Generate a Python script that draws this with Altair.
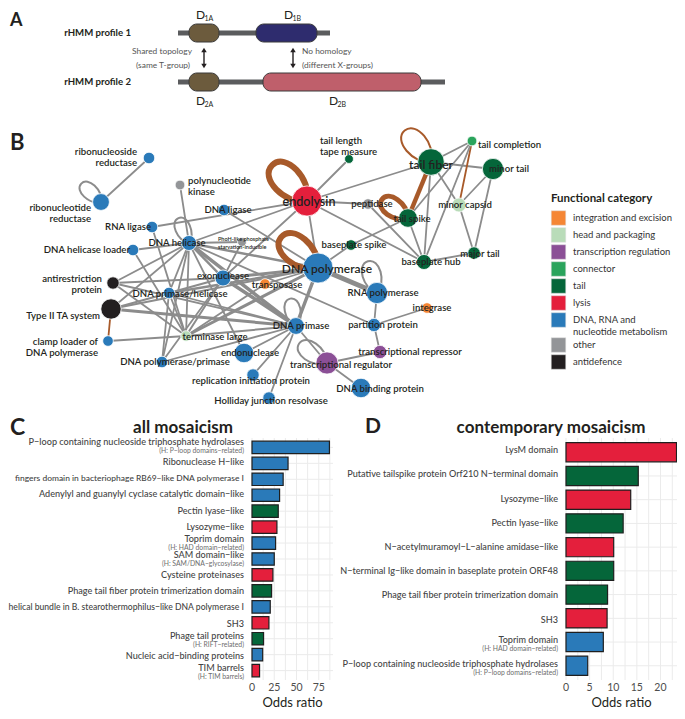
import altair as alt
import pandas as pd
import math

FONT = "Lato"
INK = "#231f20"

# ---------------- categories ----------------
CATEGORIES = ["integration and excision", "head and packaging", "transcription regulation",
              "connector", "tail", "lysis", "DNA, RNA and nucleotide metabolism", "other", "antidefence"]
CAT_COLORS = ["#f58634", "#b9dcb9", "#8b4f96", "#2aa45c", "#05663a", "#e41f3c", "#2a7ab9", "#939598", "#231f20"]
CAT_CODE = {"I": CATEGORIES[0], "H": CATEGORIES[1], "R": CATEGORIES[2], "C": CATEGORIES[3], "T": CATEGORIES[4],
            "L": CATEGORIES[5], "D": CATEGORIES[6], "O": CATEGORIES[7], "A": CATEGORIES[8]}

# ---------------- panel A (schematic) ----------------
PROFILE_NAMES = ["rHMM profile 1", "rHMM profile 2"]
PROFILE_Y = [33, 82]
BACKBONE_X1 = [178, 178]
BACKBONE_X2 = [330, 445]
DOMAIN_NAMES = ["1A", "1B", "2A", "2B"]
DOMAIN_X1 = [189, 256, 189, 263]
DOMAIN_X2 = [219, 317, 219, 421]
DOMAIN_Y1 = [24, 24, 73, 73]
DOMAIN_Y2 = [42, 42, 91, 91]
DOMAIN_FILL = ["#6c5b3d", "#2e2c6e", "#6c5b3d", "#bf5f6b"]
DOMAIN_LABEL_X = [196, 284, 196, 329]
DOMAIN_LABEL_Y = [15, 15, 101, 101]
ARROW_X = [204, 293]
ANNOT_TEXT = ["Shared topology", "(same T-group)", "No homology", "(different X-groups)"]
ANNOT_X = [192, 190, 302, 302]
ANNOT_Y = [51, 65, 51, 65]
ANNOT_ALIGN = ["right", "right", "left", "left"]

# ---------------- panel B (network) ----------------
NODES = ["ribonucleoside reductase", "ribonucleotide reductase", "polynucleotide kinase", "DNA ligase",
         "RNA ligase", "DNA helicase", "PhoH-like", "DNA helicase loader", "endolysin",
         "tail length tape measure", "peptidase", "tail fiber", "tail completion", "minor tail",
         "minor capsid", "tail spike", "baseplate spike", "baseplate hub", "major tail", "DNA polymerase",
         "exonuclease", "transposase", "DNA primase/helicase", "antirestriction protein", "Type II TA system",
         "clamp loader", "terminase large", "DNA primase", "endonuclease", "DNA polymerase/primase",
         "replication initiation protein", "Holliday junction resolvase", "transcriptional regulator",
         "transcriptional repressor", "DNA binding protein", "partition protein", "integrase", "RNA polymerase"]
NODE_X = [149, 101, 180, 224, 152, 189, 242, 133, 307, 349, 368, 431, 472, 493, 459, 408, 351, 424, 474, 318,
          223, 265, 169, 113, 111, 108, 186, 296, 244, 162, 253, 269, 327, 380, 361, 374, 427, 377]
NODE_Y = [158, 202, 185, 210, 227, 243, 242, 250, 201, 159, 204, 162, 141, 169, 205, 218, 245, 262, 253, 268,
          278, 284, 293, 283, 309, 341, 336, 326, 353, 362, 375, 398, 363, 352, 388, 325, 308, 293]
NODE_R = [6.5, 9.5, 5.5, 6.5, 6.5, 8.5, 5, 6.5, 17, 5, 6, 15, 5.5, 12, 8, 10.5, 6, 8.5, 7, 17,
          9, 6, 6.5, 7, 11.5, 6, 6, 9.5, 11, 6.5, 7, 7, 12.5, 7.5, 11, 7.5, 6, 12]
NODE_CAT = ["D", "D", "O", "D", "D", "D", "O", "D", "L", "T", "O", "T", "C", "T", "H", "T", "T", "T", "T", "D",
            "D", "I", "D", "A", "A", "D", "H", "D", "D", "D", "D", "D", "R", "R", "D", "D", "I", "D"]

EDGE_FROM = ["ribonucleoside reductase", "polynucleotide kinase", "RNA ligase", "RNA ligase", "DNA helicase",
             "DNA ligase", "DNA helicase loader", "DNA helicase loader", "DNA helicase", "DNA helicase",
             "DNA helicase", "DNA helicase", "DNA helicase", "DNA helicase", "DNA helicase", "DNA helicase",
             "DNA helicase", "DNA helicase", "DNA helicase", "PhoH-like", "endolysin", "endolysin", "endolysin",
             "endolysin", "endolysin", "endolysin", "peptidase", "tail fiber", "tail fiber", "tail fiber",
             "tail fiber", "tail fiber", "tail completion", "tail completion", "tail completion", "minor tail",
             "minor tail", "minor capsid", "tail spike", "baseplate hub", "baseplate spike", "baseplate spike",
             "DNA polymerase", "DNA polymerase", "DNA polymerase", "DNA polymerase", "DNA polymerase",
             "DNA polymerase", "DNA polymerase", "antirestriction protein", "antirestriction protein",
             "antirestriction protein", "Type II TA system", "Type II TA system", "Type II TA system",
             "clamp loader", "DNA primase/helicase", "DNA primase/helicase", "DNA primase/helicase",
             "exonuclease", "exonuclease", "exonuclease", "transposase", "terminase large", "DNA primase",
             "DNA primase", "DNA primase", "DNA primase", "DNA primase", "transcriptional regulator",
             "transcriptional regulator", "transcriptional repressor", "partition protein", "partition protein"]
EDGE_TO = ["ribonucleotide reductase", "DNA helicase", "endolysin", "terminase large", "endolysin",
           "DNA polymerase", "DNA helicase", "terminase large", "antirestriction protein", "Type II TA system",
           "DNA primase/helicase", "exonuclease", "DNA primase", "terminase large", "DNA polymerase/primase",
           "PhoH-like", "DNA polymerase", "endonuclease", "partition protein", "exonuclease",
           "tail length tape measure", "tail fiber", "peptidase", "DNA polymerase", "exonuclease",
           "baseplate hub", "baseplate hub", "tail completion", "minor tail", "minor capsid", "baseplate hub",
           "tail spike", "minor capsid", "tail spike", "baseplate hub", "minor capsid", "major tail",
           "major tail", "baseplate hub", "major tail", "tail spike", "DNA polymerase", "RNA polymerase",
           "exonuclease", "DNA primase", "terminase large", "Type II TA system", "transposase",
           "DNA primase/helicase", "exonuclease", "DNA primase", "terminase large", "DNA primase",
           "clamp loader", "exonuclease", "terminase large", "DNA primase", "terminase large",
           "DNA polymerase/primase", "DNA primase", "terminase large", "DNA polymerase/primase",
           "terminase large", "DNA primase", "endonuclease", "DNA polymerase/primase",
           "replication initiation protein", "Holliday junction resolvase", "transcriptional regulator",
           "transcriptional repressor", "DNA binding protein", "partition protein", "RNA polymerase", "integrase"]
EDGE_W = [1.8, 1.8, 1.8, 1.8, 1.8, 1.8, 1.8, 1.8, 1.8, 1.8, 1.8, 2.5, 3.5, 1.8, 1.8, 1.8, 2.5, 1.8, 1.8, 1.8,
          1.8, 1.8, 1.8, 1.8, 1.8, 1.8, 1.8, 1.8, 1.8, 1.8, 1.8, 4.5, 1.8, 1.8, 1.8, 1.8, 1.8, 1.8, 1.8, 1.8,
          1.8, 1.8, 5, 3, 3.5, 3, 2, 1.8, 2.5, 1.8, 1.8, 1.8, 3, 1.8, 2, 1.8, 1.8, 1.8, 1.8, 3.5, 2, 1.8, 1.8,
          2, 1.8, 1.8, 1.8, 1.8, 1.8, 1.8, 1.8, 1.8, 1.8, 1.8]
EDGE_KIND = ["g"] * 31 + ["b", "b"] + ["g"] * 20 + ["b"] + ["g"] * 20

LOOP_NODE = ["ribonucleotide reductase", "DNA helicase", "endolysin", "tail fiber", "tail spike",
             "DNA polymerase", "RNA polymerase", "DNA primase", "transcriptional regulator"]
LOOP_ANGLE = [313, 337, 316, 320, 305, 310, 344, 348, 305]
LOOP_LEN = [27, 27, 50, 41, 32, 48, 33, 28, 34]
LOOP_W = [2, 2, 6, 2, 5, 6, 2, 2, 2]
LOOP_KIND = ["g", "g", "b", "b", "b", "b", "g", "g", "g"]
EDGE_COLORS = {"g": "#8c8c8c", "b": "#a85a2a"}
LOOP_PATH = "M0,0 C-0.75,-0.5 -0.75,-2 0,-2 C0.75,-2 0.75,-0.5 0,0"

LBL_TEXT = ["ribonucleoside", "reductase", "ribonucleotide", "reductase", "RNA ligase", "DNA helicase loader",
            "antirestriction", "protein", "Type II TA system", "clamp loader of", "DNA polymerase",
            "polynucleotide", "kinase", "tail length", "tape measure", "tail completion",
            "PhoH-like phosphate", "starvation-inducible",
            "DNA ligase", "DNA helicase", "endolysin", "peptidase", "tail fiber", "minor tail", "minor capsid",
            "tail spike", "baseplate spike", "baseplate hub", "major tail", "DNA polymerase", "exonuclease",
            "transposase", "DNA primase/helicase", "terminase large", "DNA primase", "endonuclease",
            "DNA polymerase/primase", "replication initiation protein", "Holliday junction resolvase",
            "transcriptional regulator", "transcriptional repressor", "DNA binding protein",
            "partition protein", "integrase", "RNA polymerase"]
LBL_X = [137, 137, 91, 91, 151, 130, 102, 102, 100, 98, 98,
         188, 188, 320, 320, 478, 218, 218,
         228, 177, 309, 372, 431, 509, 465, 412, 354, 431, 480, 327, 223, 277, 180, 215, 301, 250, 175, 251,
         271, 341, 410, 380, 383, 432, 383]
LBL_Y = [152, 163, 208, 219, 227, 250, 279, 290, 316, 342, 353,
         181, 192, 141, 152, 145, 239, 247,
         210, 243, 202, 204, 165, 169, 205, 219, 245, 262, 254, 269, 276, 285, 294, 337, 326, 353, 362, 381,
         401, 365, 352, 389, 325, 308, 293]
LBL_ALIGN = ["right"] * 11 + ["left"] * 7 + ["center"] * 27
LBL_BIG = {"endolysin": 12.5, "tail fiber": 12, "DNA polymerase": 12}

# ---------------- panel C ----------------
C_LABELS = ["P\u2212loop containing nucleoside triphosphate hydrolases", "Ribonuclease H\u2212like",
            "fingers domain in bacteriophage RB69\u2212like DNA polymerase I",
            "Adenylyl and guanylyl cyclase catalytic domain\u2212like", "Pectin lyase\u2212like",
            "Lysozyme\u2212like", "Toprim domain", "SAM domain\u2212like", "Cysteine proteinases",
            "Phage tail fiber protein trimerization domain",
            "helical bundle in B. stearothermophilus\u2212like DNA polymerase I", "SH3",
            "Phage tail proteins", "Nucleic acid\u2212binding proteins", "TIM barrels"]
C_SUBS = ["(H: P\u2212loop domains\u2212related)", "", "", "", "", "", "(H: HAD domain\u2212related)",
          "(H: SAM/DNA\u2212glycosylase)", "", "", "", "", "(H: RIFT\u2212related)", "", "(H: TIM barrels)"]
C_ODDS = [87, 40.5, 35, 31, 29.5, 28, 26.5, 25, 23.5, 22, 20.5, 19, 13, 12, 8.5]
C_CATS = ["D", "D", "D", "D", "T", "L", "D", "D", "L", "T", "D", "L", "T", "D", "L"]
C_TICKS = [0, 25, 50, 75]
C_GRID = [0, 12.5, 25, 37.5, 50, 62.5, 75, 87.5]

# ---------------- panel D ----------------
D_LABELS = ["LysM domain", "Putative tailspike protein Orf210 N\u2212terminal domain", "Lysozyme\u2212like",
            "Pectin lyase\u2212like", "N\u2212acetylmuramoyl\u2212L\u2212alanine amidase\u2212like",
            "N\u2212terminal Ig\u2212like domain in baseplate protein ORF48",
            "Phage tail fiber protein trimerization domain", "SH3", "Toprim domain",
            "P\u2212loop containing nucleoside triphosphate hydrolases"]
D_SUBS = ["", "", "", "", "", "", "", "", "(H: HAD domain\u2212related)", "(H: P\u2212loop domains\u2212related)"]
D_ODDS = [23.4, 15.3, 13.7, 12.1, 10.1, 10.1, 8.8, 8.7, 7.9, 4.6]
D_CATS = ["L", "T", "L", "T", "L", "T", "T", "L", "D", "D"]
D_TICKS = [0, 5, 10, 15, 20]
D_GRID = [0, 2.5, 5, 7.5, 10, 12.5, 15, 17.5, 20, 22.5]

cat_scale = alt.Scale(domain=CATEGORIES, range=CAT_COLORS)

# ================= one pixel canvas =================
W, H = 669, 703
xs = alt.Scale(domain=[8, 8 + W], nice=False, zero=False)
ys = alt.Scale(domain=[8, 8 + H], nice=False, zero=False, reverse=True)


def X(f):
    return alt.X(f, type="quantitative", scale=xs, axis=None)


def Y(f):
    return alt.Y(f, type="quantitative", scale=ys, axis=None)


def text_layer(df, align, weight, color, baseline="middle"):
    return alt.Chart(df).mark_text(align=align, baseline=baseline, fontWeight=weight, color=color,
                                   font=FONT).encode(
        x=X("x"), y=Y("y"), text="t:N", size=alt.Size("fs:Q", scale=None))


backbone_df = pd.DataFrame({"x1": BACKBONE_X1, "x2": BACKBONE_X2, "y": PROFILE_Y})
backbone = alt.Chart(backbone_df).mark_rule(strokeWidth=5, color="#5b5c5e").encode(
    x=X("x1"), x2="x2", y=Y("y"))

dom_df = pd.DataFrame({"x1": DOMAIN_X1, "x2": DOMAIN_X2, "y1": DOMAIN_Y1, "y2": DOMAIN_Y2, "fill": DOMAIN_FILL})
domains = alt.Chart(dom_df).mark_rect(cornerRadius=8, stroke="#3a3a3a", strokeWidth=1).encode(
    x=X("x1"), x2="x2", y=Y("y1"), y2="y2", fill=alt.Fill("fill:N", scale=None))

shaft_df = pd.DataFrame({"x": ARROW_X, "y1": [52, 52], "y2": [64, 64]})
shafts = alt.Chart(shaft_df).mark_rule(strokeWidth=1.4, color=INK).encode(x=X("x"), y=Y("y1"), y2="y2")
head_df = pd.DataFrame({"x": ARROW_X * 2, "y": [50, 50, 66, 66],
                        "shape": ["triangle-up", "triangle-up", "triangle-down", "triangle-down"]})
heads = alt.Chart(head_df).mark_point(filled=True, opacity=1, color=INK, size=30).encode(
    x=X("x"), y=Y("y"), shape=alt.Shape("shape:N", scale=None))

prof_df = pd.DataFrame({"t": PROFILE_NAMES, "x": [131, 131], "y": PROFILE_Y, "fs": [9.6, 9.6]})
annot_df = pd.DataFrame({"t": ANNOT_TEXT, "x": ANNOT_X, "y": ANNOT_Y, "fs": [8.4] * 4, "a": ANNOT_ALIGN})
dl_df = pd.DataFrame({"t": ["D"] * 4, "x": DOMAIN_LABEL_X, "y": DOMAIN_LABEL_Y, "fs": [12] * 4})
ds_df = pd.DataFrame({"t": DOMAIN_NAMES, "x": [v + 8.5 for v in DOMAIN_LABEL_X],
                      "y": [v + 3.5 for v in DOMAIN_LABEL_Y], "fs": [7] * 4})

letters_df = pd.DataFrame({"t": ["A", "B", "C", "D"], "x": [10, 10, 10, 365], "y": [21, 143, 428, 427],
                           "fs": [18, 22, 23, 21]})
titles_df = pd.DataFrame({"t": ["all mosaicism", "contemporary mosaicism"], "x": [183, 551], "y": [428, 428],
                          "fs": [17, 17]})

# network tables
pos = {n: (x, y) for n, x, y in zip(NODES, NODE_X, NODE_Y)}
edge_df = pd.DataFrame({
    "x1": [pos[a][0] for a in EDGE_FROM], "y1": [pos[a][1] for a in EDGE_FROM],
    "x2": [pos[b][0] for b in EDGE_TO], "y2": [pos[b][1] for b in EDGE_TO],
    "w": EDGE_W, "col": [EDGE_COLORS[k] for k in EDGE_KIND]})
edges = alt.Chart(edge_df).mark_rule(strokeCap="round").encode(
    x=X("x1"), y=Y("y1"), x2="x2", y2="y2",
    strokeWidth=alt.StrokeWidth("w:Q", scale=None), stroke=alt.Stroke("col:N", scale=None))

loop_df = pd.DataFrame({"x": [pos[n][0] for n in LOOP_NODE], "y": [pos[n][1] for n in LOOP_NODE],
                        "ang": LOOP_ANGLE, "sz": [v * v for v in LOOP_LEN], "w": LOOP_W,
                        "col": [EDGE_COLORS[k] for k in LOOP_KIND]})
loops = alt.Chart(loop_df).mark_point(shape=LOOP_PATH, filled=False, opacity=1).encode(
    x=X("x"), y=Y("y"), angle=alt.Angle("ang:Q", scale=None), size=alt.Size("sz:Q", scale=None),
    stroke=alt.Stroke("col:N", scale=None), strokeWidth=alt.StrokeWidth("w:Q", scale=None))

node_df = pd.DataFrame({"name": NODES, "x": NODE_X, "y": NODE_Y,
                        "area": [math.pi * r * r for r in NODE_R],
                        "cat": [CAT_CODE[c] for c in NODE_CAT]})
legend = alt.Legend(
    title="Functional category", orient="none", legendX=543, legendY=185,
    symbolType="square", symbolSize=210, symbolOpacity=1, symbolStrokeWidth=0.5, symbolStrokeColor="#dddddd",
    labelFont=FONT, labelFontSize=9.5, labelColor="#333333", labelOffset=7, labelLimit=250,
    titleFont=FONT, titleFontSize=11.5, titleFontWeight="bold", titleColor=INK, titlePadding=6, rowPadding=0,
    labelExpr="datum.label == 'DNA, RNA and nucleotide metabolism' ? ['DNA, RNA and', 'nucleotide metabolism'] : datum.label")
nodes = alt.Chart(node_df).mark_circle(opacity=1, stroke="white", strokeWidth=0.8).encode(
    x=X("x"), y=Y("y"), size=alt.Size("area:Q", scale=None),
    color=alt.Color("cat:N", scale=cat_scale, legend=legend))

lbl_size = [5.5 if t.startswith(("PhoH", "starvation")) else
            (LBL_BIG[t] if (t in LBL_BIG and a == "center") else 9.6)
            for t, a in zip(LBL_TEXT, LBL_ALIGN)]
lbl_df = pd.DataFrame({"t": LBL_TEXT, "x": LBL_X, "y": LBL_Y, "a": LBL_ALIGN, "fs": lbl_size})

layers = [
    backbone, domains, shafts, heads,
    text_layer(prof_df, "right", "bold", INK),
    text_layer(annot_df[annot_df.a == "right"], "right", "normal", "#555555"),
    text_layer(annot_df[annot_df.a == "left"], "left", "normal", "#555555"),
    text_layer(dl_df, "left", "normal", INK),
    text_layer(ds_df, "left", "normal", INK),
    edges, loops, nodes,
    text_layer(lbl_df[lbl_df.a == "right"], "right", 600, INK),
    text_layer(lbl_df[lbl_df.a == "left"], "left", 600, INK),
    text_layer(lbl_df[lbl_df.a == "center"], "center", 600, INK),
    text_layer(letters_df, "left", "bold", INK),
    text_layer(titles_df, "center", "bold", INK),
]

# ================= bar panels (own scales, placed by scale range) =================
PLOT_TOP, PLOT_BOTTOM = 438 - 8, 680 - 8   # chart pixels
GRID = "#ebebeb"
MAIN_FS = 9.1
LONG_LABEL_FS = {C_LABELS[2]: 8.45, C_LABELS[10]: 8.6}   # the two widest labels are set a little smaller


def bar_layers(labels, subs, odds, cats, xmax, grid_vals, ticks, px0, px1, pin, pout):
    lx = px0 - 8 - 8
    fs = [LONG_LABEL_FS.get(t, MAIN_FS) for t in labels]
    df = pd.DataFrame({"label": labels, "sub": subs, "odds": odds, "cat": [CAT_CODE[c] for c in cats],
                       "fs": fs})
    xsc = alt.Scale(domain=[0, xmax], range=[px0 - 8, px1 - 8], nice=False, zero=True)
    ysc = alt.Scale(domain=labels, range=[PLOT_TOP, PLOT_BOTTOM], paddingInner=pin, paddingOuter=pout)
    yenc = alt.Y("label:N", scale=ysc, axis=None)
    xenc = alt.X("odds:Q", scale=xsc, axis=None)
    vgrid = alt.Chart(pd.DataFrame({"v": grid_vals})).mark_rule(color=GRID, strokeWidth=1).encode(
        x=alt.X("v:Q", scale=xsc, axis=None), y=alt.value(PLOT_TOP), y2=alt.value(PLOT_BOTTOM))
    hgrid = alt.Chart(df).mark_rule(color=GRID, strokeWidth=1).encode(
        y=yenc, x=alt.value(px0 - 8), x2=alt.value(px1 - 8))
    bars = alt.Chart(df).mark_bar(stroke="#1f1f1f", strokeWidth=1.2, opacity=1).encode(
        y=yenc, x=xenc, color=alt.Color("cat:N", scale=cat_scale, legend=None))
    plain = alt.Chart(df[df["sub"] == ""]).mark_text(
        align="right", baseline="middle", font=FONT, fontWeight=500, color="#444444").encode(
        y=yenc, x=alt.value(lx), text="label:N", size=alt.Size("fs:Q", scale=None))
    withsub = alt.Chart(df[df["sub"] != ""]).mark_text(
        align="right", baseline="middle", dy=-4, font=FONT, fontWeight=500,
        color="#444444").encode(y=yenc, x=alt.value(lx), text="label:N", size=alt.Size("fs:Q", scale=None))
    sub = alt.Chart(df[df["sub"] != ""]).mark_text(
        align="right", baseline="middle", dy=5.3, font=FONT, fontSize=6.8, color="#6d6d6d").encode(
        y=yenc, x=alt.value(lx), text="sub:N")
    tick_lbl = alt.Chart(pd.DataFrame({"v": ticks})).mark_text(
        baseline="middle", font=FONT, fontSize=10.5, color="#4d4d4d").encode(
        x=alt.X("v:Q", scale=xsc, axis=None), y=alt.value(PLOT_BOTTOM + 8), text="v:Q")
    title = alt.Chart(pd.DataFrame({"t": ["Odds ratio"]})).mark_text(
        baseline="middle", font=FONT, fontSize=13, color=INK).encode(
        x=alt.value((px0 + px1) / 2 - 8), y=alt.value(PLOT_BOTTOM + 23), text="t:N")
    return [vgrid, hgrid, bars, plain, withsub, sub, tick_lbl, title]


layers += bar_layers(C_LABELS, C_SUBS, C_ODDS, C_CATS, 91, C_GRID, C_TICKS, 252, 333, 0.22, 0.2)
layers += bar_layers(D_LABELS, D_SUBS, D_ODDS, D_CATS, 23.5, D_GRID, D_TICKS, 566, 677, 0.19, 0.195)

chart = alt.layer(*layers).resolve_scale(
    x="independent", y="independent", color="independent"
).properties(
    width=W, height=H, padding=0, autosize=alt.AutoSizeParams(type="none")
).configure_view(stroke=None)

chart.save("out.html", embed_options={"renderer": "svg", "actions": False})
